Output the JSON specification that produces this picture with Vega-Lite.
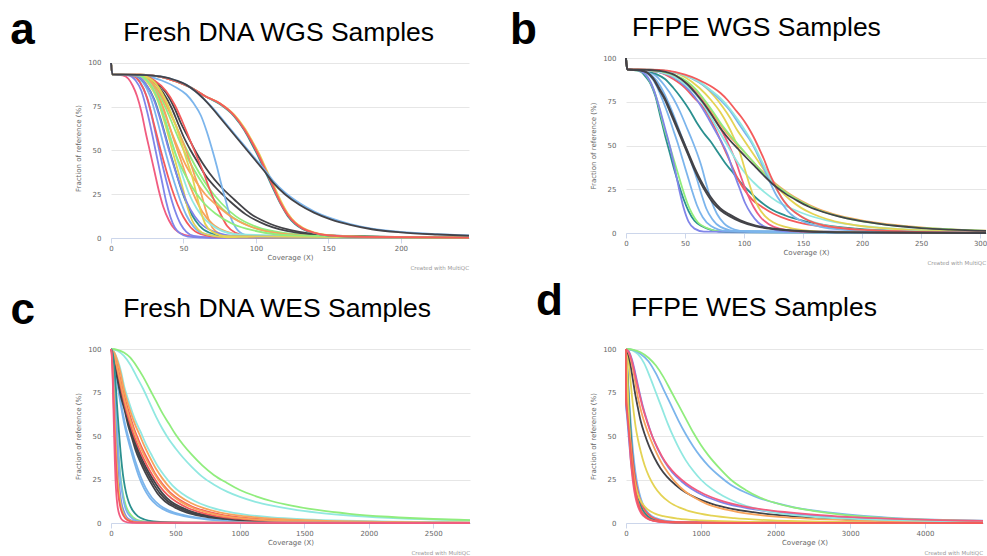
{
"$schema": "https://vega.github.io/schema/vega-lite/v6.json",
"background": "white",
"padding": {"left": 10, "top": 9, "right": 2, "bottom": 0},
"config": {
 "view": {"stroke": null},
 "axis": {"labelFont": "DejaVu Sans", "labelFontSize": 7, "labelColor": "#666666", "titleFont": "DejaVu Sans", "titleFontSize": 7, "titleFontWeight": "normal", "titleColor": "#666666"},
 "axisX": {"grid": false, "domainColor": "#ccd6eb", "tickColor": "#ccd6eb", "tickSize": 5, "labelPadding": 1, "titlePadding": 2, "labelFlush": false},
 "axisY": {"grid": true, "gridColor": "#e6e6e6", "domain": false, "ticks": false, "tickSize": 0, "labelPadding": 10, "titlePadding": 6.5},
 "line": {"strokeWidth": 1.8, "interpolate": "monotone"}
},
"datasets": {
"a": [
{"s":"a01","x":0,"y":100},{"s":"a01","x":1,"y":93.5},{"s":"a01","x":8,"y":93},{"s":"a01","x":12,"y":91},{"s":"a01","x":15,"y":87},{"s":"a01","x":18,"y":81},{"s":"a01","x":21,"y":72},{"s":"a01","x":24,"y":60},{"s":"a01","x":27,"y":49},{"s":"a01","x":30,"y":38},{"s":"a01","x":33,"y":27},{"s":"a01","x":36,"y":18},{"s":"a01","x":40,"y":10},{"s":"a01","x":44,"y":5},{"s":"a01","x":50,"y":2},{"s":"a01","x":60,"y":0.6},{"s":"a01","x":80,"y":0.1},{"s":"a01","x":247,"y":0},
{"s":"a02","x":0,"y":100},{"s":"a02","x":1,"y":93.5},{"s":"a02","x":12,"y":93},{"s":"a02","x":17,"y":90},{"s":"a02","x":21,"y":84},{"s":"a02","x":25,"y":72},{"s":"a02","x":29,"y":57},{"s":"a02","x":32,"y":45},{"s":"a02","x":35,"y":33},{"s":"a02","x":38,"y":21},{"s":"a02","x":41,"y":12},{"s":"a02","x":44,"y":6},{"s":"a02","x":48,"y":2.5},{"s":"a02","x":53,"y":0.8},{"s":"a02","x":70,"y":0.1},{"s":"a02","x":247,"y":0},
{"s":"a03","x":0,"y":100},{"s":"a03","x":1,"y":93.5},{"s":"a03","x":14,"y":93},{"s":"a03","x":20,"y":89},{"s":"a03","x":24,"y":82},{"s":"a03","x":28,"y":70},{"s":"a03","x":32,"y":55},{"s":"a03","x":36,"y":40},{"s":"a03","x":40,"y":27},{"s":"a03","x":44,"y":16},{"s":"a03","x":48,"y":8},{"s":"a03","x":52,"y":3.5},{"s":"a03","x":57,"y":1.2},{"s":"a03","x":70,"y":0.2},{"s":"a03","x":247,"y":0},
{"s":"a04","x":0,"y":100},{"s":"a04","x":1,"y":93.5},{"s":"a04","x":14,"y":93},{"s":"a04","x":20,"y":89},{"s":"a04","x":25,"y":80},{"s":"a04","x":30,"y":64},{"s":"a04","x":34,"y":51},{"s":"a04","x":38,"y":39},{"s":"a04","x":42,"y":28},{"s":"a04","x":46,"y":19},{"s":"a04","x":50,"y":12},{"s":"a04","x":55,"y":6},{"s":"a04","x":62,"y":2.2},{"s":"a04","x":75,"y":0.5},{"s":"a04","x":247,"y":0},
{"s":"a05","x":0,"y":100},{"s":"a05","x":1,"y":93.5},{"s":"a05","x":15,"y":93},{"s":"a05","x":22,"y":89},{"s":"a05","x":27,"y":81},{"s":"a05","x":32,"y":67},{"s":"a05","x":36,"y":54},{"s":"a05","x":40,"y":42},{"s":"a05","x":44,"y":31},{"s":"a05","x":48,"y":21},{"s":"a05","x":52,"y":13},{"s":"a05","x":57,"y":6.5},{"s":"a05","x":64,"y":2.5},{"s":"a05","x":80,"y":0.5},{"s":"a05","x":247,"y":0},
{"s":"a06","x":0,"y":100},{"s":"a06","x":1,"y":93.5},{"s":"a06","x":16,"y":93},{"s":"a06","x":24,"y":88},{"s":"a06","x":30,"y":79},{"s":"a06","x":35,"y":66},{"s":"a06","x":40,"y":51},{"s":"a06","x":44,"y":40},{"s":"a06","x":48,"y":29},{"s":"a06","x":52,"y":20},{"s":"a06","x":56,"y":13},{"s":"a06","x":61,"y":7},{"s":"a06","x":68,"y":3},{"s":"a06","x":85,"y":0.6},{"s":"a06","x":247,"y":0},
{"s":"a07","x":0,"y":100},{"s":"a07","x":1,"y":93.5},{"s":"a07","x":18,"y":93},{"s":"a07","x":26,"y":88},{"s":"a07","x":32,"y":79},{"s":"a07","x":37,"y":66},{"s":"a07","x":42,"y":51},{"s":"a07","x":46,"y":39},{"s":"a07","x":50,"y":27},{"s":"a07","x":53,"y":17},{"s":"a07","x":56,"y":10},{"s":"a07","x":60,"y":5},{"s":"a07","x":66,"y":2},{"s":"a07","x":80,"y":0.4},{"s":"a07","x":247,"y":0},
{"s":"a08","x":0,"y":100},{"s":"a08","x":1,"y":93.5},{"s":"a08","x":18,"y":93},{"s":"a08","x":27,"y":89},{"s":"a08","x":33,"y":81},{"s":"a08","x":38,"y":70},{"s":"a08","x":43,"y":57},{"s":"a08","x":48,"y":45},{"s":"a08","x":53,"y":33},{"s":"a08","x":58,"y":23},{"s":"a08","x":63,"y":15},{"s":"a08","x":70,"y":8},{"s":"a08","x":80,"y":3.5},{"s":"a08","x":100,"y":0.8},{"s":"a08","x":247,"y":0},
{"s":"a09","x":0,"y":100},{"s":"a09","x":1,"y":93.5},{"s":"a09","x":20,"y":93},{"s":"a09","x":28,"y":89},{"s":"a09","x":34,"y":81},{"s":"a09","x":40,"y":70},{"s":"a09","x":46,"y":58},{"s":"a09","x":52,"y":47},{"s":"a09","x":58,"y":38},{"s":"a09","x":64,"y":30},{"s":"a09","x":72,"y":21},{"s":"a09","x":82,"y":13},{"s":"a09","x":95,"y":7},{"s":"a09","x":115,"y":3},{"s":"a09","x":150,"y":1},{"s":"a09","x":247,"y":0.2},
{"s":"a10","x":0,"y":100},{"s":"a10","x":1,"y":93.5},{"s":"a10","x":20,"y":93},{"s":"a10","x":30,"y":89},{"s":"a10","x":36,"y":81},{"s":"a10","x":42,"y":70},{"s":"a10","x":48,"y":58},{"s":"a10","x":55,"y":46},{"s":"a10","x":61,"y":37},{"s":"a10","x":68,"y":28},{"s":"a10","x":76,"y":20},{"s":"a10","x":86,"y":12.5},{"s":"a10","x":100,"y":6.5},{"s":"a10","x":120,"y":2.8},{"s":"a10","x":150,"y":1.2},{"s":"a10","x":247,"y":0.2},
{"s":"a11","x":0,"y":100},{"s":"a11","x":1,"y":93.5},{"s":"a11","x":20,"y":93},{"s":"a11","x":30,"y":89.5},{"s":"a11","x":38,"y":83},{"s":"a11","x":44,"y":74},{"s":"a11","x":48,"y":66},{"s":"a11","x":53,"y":58},{"s":"a11","x":58,"y":50},{"s":"a11","x":63,"y":43},{"s":"a11","x":68,"y":37},{"s":"a11","x":75,"y":30},{"s":"a11","x":85,"y":22},{"s":"a11","x":96,"y":14},{"s":"a11","x":110,"y":8},{"s":"a11","x":130,"y":3.5},{"s":"a11","x":160,"y":1.2},{"s":"a11","x":247,"y":0.2},
{"s":"a12","x":0,"y":100},{"s":"a12","x":1,"y":93.5},{"s":"a12","x":20,"y":93},{"s":"a12","x":30,"y":89},{"s":"a12","x":36,"y":83},{"s":"a12","x":42,"y":74},{"s":"a12","x":46,"y":66},{"s":"a12","x":50,"y":58},{"s":"a12","x":55,"y":50},{"s":"a12","x":60,"y":43},{"s":"a12","x":65,"y":36},{"s":"a12","x":72,"y":29},{"s":"a12","x":82,"y":21},{"s":"a12","x":93,"y":13.5},{"s":"a12","x":107,"y":7.5},{"s":"a12","x":127,"y":3.2},{"s":"a12","x":160,"y":1},{"s":"a12","x":247,"y":0.2},
{"s":"a13","x":0,"y":100},{"s":"a13","x":1,"y":93.5},{"s":"a13","x":20,"y":93},{"s":"a13","x":35,"y":90},{"s":"a13","x":45,"y":86},{"s":"a13","x":52,"y":82},{"s":"a13","x":57,"y":77},{"s":"a13","x":62,"y":70},{"s":"a13","x":66,"y":61},{"s":"a13","x":70,"y":50},{"s":"a13","x":73,"y":41},{"s":"a13","x":76,"y":31},{"s":"a13","x":79,"y":22},{"s":"a13","x":82,"y":13},{"s":"a13","x":86,"y":6},{"s":"a13","x":92,"y":2},{"s":"a13","x":105,"y":0.5},{"s":"a13","x":247,"y":0},
{"s":"a14","x":0,"y":100},{"s":"a14","x":1,"y":93.5},{"s":"a14","x":20,"y":93},{"s":"a14","x":30,"y":90},{"s":"a14","x":38,"y":84},{"s":"a14","x":44,"y":76},{"s":"a14","x":49,"y":67},{"s":"a14","x":54,"y":57},{"s":"a14","x":59,"y":47},{"s":"a14","x":64,"y":37},{"s":"a14","x":68,"y":28},{"s":"a14","x":72,"y":20},{"s":"a14","x":76,"y":13},{"s":"a14","x":80,"y":7},{"s":"a14","x":86,"y":3},{"s":"a14","x":95,"y":1},{"s":"a14","x":247,"y":0},
{"s":"a15","x":0,"y":100},{"s":"a15","x":1,"y":93.5},{"s":"a15","x":18,"y":93},{"s":"a15","x":28,"y":89},{"s":"a15","x":35,"y":81},{"s":"a15","x":41,"y":71},{"s":"a15","x":46,"y":62},{"s":"a15","x":50,"y":54},{"s":"a15","x":54,"y":45},{"s":"a15","x":58,"y":35},{"s":"a15","x":62,"y":26},{"s":"a15","x":65,"y":17},{"s":"a15","x":68,"y":9},{"s":"a15","x":72,"y":4},{"s":"a15","x":80,"y":1.2},{"s":"a15","x":247,"y":0},
{"s":"a16","x":0,"y":100},{"s":"a16","x":1,"y":93.5},{"s":"a16","x":18,"y":93},{"s":"a16","x":26,"y":89},{"s":"a16","x":32,"y":81},{"s":"a16","x":37,"y":71},{"s":"a16","x":42,"y":60},{"s":"a16","x":47,"y":50},{"s":"a16","x":52,"y":41},{"s":"a16","x":58,"y":33},{"s":"a16","x":65,"y":25},{"s":"a16","x":74,"y":18},{"s":"a16","x":85,"y":11},{"s":"a16","x":98,"y":6},{"s":"a16","x":115,"y":2.8},{"s":"a16","x":150,"y":0.8},{"s":"a16","x":247,"y":0.1},
{"s":"a17","x":0,"y":100},{"s":"a17","x":1,"y":93.5},{"s":"a17","x":18,"y":93},{"s":"a17","x":27,"y":88},{"s":"a17","x":33,"y":78},{"s":"a17","x":38,"y":66},{"s":"a17","x":42,"y":55},{"s":"a17","x":46,"y":44},{"s":"a17","x":50,"y":34},{"s":"a17","x":54,"y":25},{"s":"a17","x":59,"y":17},{"s":"a17","x":65,"y":10.5},{"s":"a17","x":73,"y":5.5},{"s":"a17","x":88,"y":2},{"s":"a17","x":247,"y":0},
{"s":"a18","x":0,"y":100},{"s":"a18","x":1,"y":93.5},{"s":"a18","x":16,"y":93},{"s":"a18","x":24,"y":88},{"s":"a18","x":30,"y":78},{"s":"a18","x":35,"y":65},{"s":"a18","x":39,"y":53},{"s":"a18","x":43,"y":42},{"s":"a18","x":47,"y":32},{"s":"a18","x":51,"y":23},{"s":"a18","x":55,"y":16},{"s":"a18","x":61,"y":9},{"s":"a18","x":70,"y":4},{"s":"a18","x":88,"y":1},{"s":"a18","x":247,"y":0},
{"s":"a19","x":0,"y":100},{"s":"a19","x":1,"y":93.5},{"s":"a19","x":20,"y":93},{"s":"a19","x":30,"y":89},{"s":"a19","x":37,"y":80},{"s":"a19","x":43,"y":68},{"s":"a19","x":48,"y":56},{"s":"a19","x":52,"y":45},{"s":"a19","x":56,"y":35},{"s":"a19","x":59,"y":25},{"s":"a19","x":62,"y":15},{"s":"a19","x":65,"y":8},{"s":"a19","x":70,"y":3.5},{"s":"a19","x":80,"y":1},{"s":"a19","x":247,"y":0},
{"s":"a20","x":0,"y":100},{"s":"a20","x":1,"y":93.5},{"s":"a20","x":18,"y":93},{"s":"a20","x":26,"y":89},{"s":"a20","x":32,"y":80},{"s":"a20","x":37,"y":68},{"s":"a20","x":41,"y":57},{"s":"a20","x":45,"y":47},{"s":"a20","x":50,"y":38},{"s":"a20","x":56,"y":29},{"s":"a20","x":63,"y":21},{"s":"a20","x":72,"y":14},{"s":"a20","x":84,"y":8},{"s":"a20","x":100,"y":4},{"s":"a20","x":125,"y":1.5},{"s":"a20","x":247,"y":0.2},
{"s":"a21","x":0,"y":100},{"s":"a21","x":1,"y":93.5},{"s":"a21","x":20,"y":93.3},{"s":"a21","x":35,"y":92},{"s":"a21","x":45,"y":89.5},{"s":"a21","x":55,"y":86},{"s":"a21","x":65,"y":81},{"s":"a21","x":75,"y":77},{"s":"a21","x":85,"y":70.5},{"s":"a21","x":92,"y":63},{"s":"a21","x":97,"y":56},{"s":"a21","x":102,"y":48.5},{"s":"a21","x":107,"y":39.5},{"s":"a21","x":112,"y":30.5},{"s":"a21","x":117,"y":21.5},{"s":"a21","x":122,"y":14},{"s":"a21","x":127,"y":9},{"s":"a21","x":132,"y":6},{"s":"a21","x":140,"y":3.2},{"s":"a21","x":150,"y":1.6},{"s":"a21","x":175,"y":0.6},{"s":"a21","x":247,"y":0.2},
{"s":"a22","x":0,"y":100},{"s":"a22","x":1,"y":93.5},{"s":"a22","x":20,"y":93.3},{"s":"a22","x":35,"y":92},{"s":"a22","x":45,"y":89.5},{"s":"a22","x":55,"y":86},{"s":"a22","x":65,"y":81},{"s":"a22","x":75,"y":76.5},{"s":"a22","x":85,"y":69.5},{"s":"a22","x":92,"y":61.5},{"s":"a22","x":97,"y":54},{"s":"a22","x":102,"y":46},{"s":"a22","x":107,"y":37},{"s":"a22","x":112,"y":28},{"s":"a22","x":117,"y":19.5},{"s":"a22","x":122,"y":12.5},{"s":"a22","x":127,"y":8},{"s":"a22","x":132,"y":5.2},{"s":"a22","x":140,"y":2.8},{"s":"a22","x":150,"y":1.4},{"s":"a22","x":175,"y":0.5},{"s":"a22","x":247,"y":0.2},
{"s":"a23","x":0,"y":100},{"s":"a23","x":1,"y":93.5},{"s":"a23","x":20,"y":93.3},{"s":"a23","x":35,"y":92},{"s":"a23","x":45,"y":89.5},{"s":"a23","x":55,"y":86},{"s":"a23","x":65,"y":81},{"s":"a23","x":75,"y":77},{"s":"a23","x":85,"y":70},{"s":"a23","x":92,"y":62.5},{"s":"a23","x":97,"y":55.5},{"s":"a23","x":102,"y":47.5},{"s":"a23","x":107,"y":38.5},{"s":"a23","x":112,"y":29.5},{"s":"a23","x":117,"y":20.5},{"s":"a23","x":122,"y":13.5},{"s":"a23","x":127,"y":8.7},{"s":"a23","x":132,"y":5.7},{"s":"a23","x":140,"y":3},{"s":"a23","x":150,"y":1.5},{"s":"a23","x":175,"y":0.6},{"s":"a23","x":247,"y":0.2},
{"s":"a24","x":0,"y":100},{"s":"a24","x":1,"y":93.5},{"s":"a24","x":20,"y":93.3},{"s":"a24","x":35,"y":92},{"s":"a24","x":45,"y":89.5},{"s":"a24","x":55,"y":86},{"s":"a24","x":65,"y":81},{"s":"a24","x":75,"y":77},{"s":"a24","x":85,"y":70},{"s":"a24","x":92,"y":62},{"s":"a24","x":97,"y":55},{"s":"a24","x":102,"y":47},{"s":"a24","x":107,"y":38},{"s":"a24","x":112,"y":29},{"s":"a24","x":117,"y":20},{"s":"a24","x":122,"y":13},{"s":"a24","x":127,"y":8.5},{"s":"a24","x":132,"y":5.5},{"s":"a24","x":140,"y":3},{"s":"a24","x":150,"y":1.5},{"s":"a24","x":175,"y":0.6},{"s":"a24","x":247,"y":0.2},
{"s":"a25","x":0,"y":100},{"s":"a25","x":1,"y":93.5},{"s":"a25","x":20,"y":93.2},{"s":"a25","x":35,"y":92.2},{"s":"a25","x":45,"y":90},{"s":"a25","x":52,"y":87.5},{"s":"a25","x":58,"y":84},{"s":"a25","x":64,"y":79.5},{"s":"a25","x":70,"y":74.5},{"s":"a25","x":76,"y":68.7},{"s":"a25","x":82,"y":62.7},{"s":"a25","x":88,"y":56.7},{"s":"a25","x":94,"y":50.8},{"s":"a25","x":100,"y":44.8},{"s":"a25","x":106,"y":39},{"s":"a25","x":112,"y":32.5},{"s":"a25","x":120,"y":26},{"s":"a25","x":130,"y":20},{"s":"a25","x":140,"y":15.3},{"s":"a25","x":152,"y":11.2},{"s":"a25","x":165,"y":8},{"s":"a25","x":180,"y":5.4},{"s":"a25","x":200,"y":3.5},{"s":"a25","x":225,"y":2.2},{"s":"a25","x":247,"y":1.5},
{"s":"a26","x":0,"y":100},{"s":"a26","x":1,"y":93.5},{"s":"a26","x":20,"y":93.2},{"s":"a26","x":35,"y":92.2},{"s":"a26","x":45,"y":90},{"s":"a26","x":52,"y":87.5},{"s":"a26","x":58,"y":84},{"s":"a26","x":64,"y":79.5},{"s":"a26","x":70,"y":74},{"s":"a26","x":76,"y":68},{"s":"a26","x":82,"y":62},{"s":"a26","x":88,"y":56},{"s":"a26","x":94,"y":50},{"s":"a26","x":100,"y":44},{"s":"a26","x":106,"y":38},{"s":"a26","x":112,"y":31.5},{"s":"a26","x":120,"y":25},{"s":"a26","x":130,"y":19},{"s":"a26","x":140,"y":14.5},{"s":"a26","x":152,"y":10.5},{"s":"a26","x":165,"y":7.5},{"s":"a26","x":180,"y":5},{"s":"a26","x":200,"y":3.2},{"s":"a26","x":225,"y":2},{"s":"a26","x":247,"y":1.3}
],
"b": [
{"s":"b01","x":0,"y":100},{"s":"b01","x":1,"y":93.5},{"s":"b01","x":8,"y":93},{"s":"b01","x":13,"y":92},{"s":"b01","x":17,"y":89},{"s":"b01","x":21,"y":85},{"s":"b01","x":25,"y":78},{"s":"b01","x":29,"y":67},{"s":"b01","x":33,"y":56},{"s":"b01","x":37,"y":46},{"s":"b01","x":41,"y":36},{"s":"b01","x":45,"y":27},{"s":"b01","x":49,"y":19},{"s":"b01","x":53,"y":12.5},{"s":"b01","x":58,"y":7},{"s":"b01","x":64,"y":4},{"s":"b01","x":72,"y":1.8},{"s":"b01","x":85,"y":0.5},{"s":"b01","x":305,"y":0},
{"s":"b02","x":0,"y":100},{"s":"b02","x":1,"y":93.5},{"s":"b02","x":9,"y":93},{"s":"b02","x":15,"y":91.5},{"s":"b02","x":20,"y":87},{"s":"b02","x":24,"y":81},{"s":"b02","x":28,"y":72},{"s":"b02","x":32,"y":61},{"s":"b02","x":36,"y":52},{"s":"b02","x":40,"y":43},{"s":"b02","x":44,"y":34},{"s":"b02","x":48,"y":25},{"s":"b02","x":52,"y":17},{"s":"b02","x":56,"y":11},{"s":"b02","x":61,"y":6},{"s":"b02","x":68,"y":3},{"s":"b02","x":80,"y":1},{"s":"b02","x":305,"y":0},
{"s":"b03","x":0,"y":100},{"s":"b03","x":1,"y":93.5},{"s":"b03","x":10,"y":93},{"s":"b03","x":16,"y":91},{"s":"b03","x":21,"y":86},{"s":"b03","x":25,"y":79},{"s":"b03","x":29,"y":70},{"s":"b03","x":33,"y":60},{"s":"b03","x":37,"y":50},{"s":"b03","x":41,"y":38},{"s":"b03","x":45,"y":25},{"s":"b03","x":49,"y":14},{"s":"b03","x":53,"y":6.5},{"s":"b03","x":58,"y":2.5},{"s":"b03","x":66,"y":0.8},{"s":"b03","x":305,"y":0},
{"s":"b04","x":0,"y":100},{"s":"b04","x":1,"y":93.5},{"s":"b04","x":12,"y":93},{"s":"b04","x":20,"y":90},{"s":"b04","x":26,"y":84},{"s":"b04","x":31,"y":76},{"s":"b04","x":36,"y":67},{"s":"b04","x":40,"y":59},{"s":"b04","x":44,"y":51},{"s":"b04","x":48,"y":42},{"s":"b04","x":52,"y":33},{"s":"b04","x":56,"y":24},{"s":"b04","x":60,"y":16},{"s":"b04","x":65,"y":9},{"s":"b04","x":72,"y":4},{"s":"b04","x":85,"y":1.2},{"s":"b04","x":305,"y":0},
{"s":"b05","x":0,"y":100},{"s":"b05","x":1,"y":93.5},{"s":"b05","x":14,"y":93},{"s":"b05","x":22,"y":90},{"s":"b05","x":29,"y":84},{"s":"b05","x":35,"y":76},{"s":"b05","x":40,"y":68},{"s":"b05","x":45,"y":59},{"s":"b05","x":50,"y":50},{"s":"b05","x":55,"y":41},{"s":"b05","x":60,"y":31},{"s":"b05","x":64,"y":22},{"s":"b05","x":68,"y":14},{"s":"b05","x":73,"y":8},{"s":"b05","x":80,"y":3.5},{"s":"b05","x":95,"y":1},{"s":"b05","x":305,"y":0},
{"s":"b08","x":0,"y":100},{"s":"b08","x":1,"y":93.5},{"s":"b08","x":15,"y":93},{"s":"b08","x":25,"y":90},{"s":"b08","x":33,"y":84},{"s":"b08","x":40,"y":77},{"s":"b08","x":46,"y":69},{"s":"b08","x":51,"y":61},{"s":"b08","x":56,"y":53},{"s":"b08","x":60,"y":46},{"s":"b08","x":64,"y":38},{"s":"b08","x":68,"y":28},{"s":"b08","x":72,"y":19},{"s":"b08","x":77,"y":11},{"s":"b08","x":83,"y":5.5},{"s":"b08","x":92,"y":2},{"s":"b08","x":105,"y":0.6},{"s":"b08","x":305,"y":0},
{"s":"b10","x":0,"y":100},{"s":"b10","x":1,"y":93.5},{"s":"b10","x":15,"y":93},{"s":"b10","x":25,"y":91},{"s":"b10","x":33,"y":88},{"s":"b10","x":40,"y":83},{"s":"b10","x":47,"y":77},{"s":"b10","x":54,"y":70},{"s":"b10","x":60,"y":63},{"s":"b10","x":66,"y":57},{"s":"b10","x":72,"y":52},{"s":"b10","x":78,"y":46},{"s":"b10","x":84,"y":40},{"s":"b10","x":90,"y":35},{"s":"b10","x":97,"y":29},{"s":"b10","x":104,"y":24},{"s":"b10","x":112,"y":19},{"s":"b10","x":122,"y":14},{"s":"b10","x":135,"y":10},{"s":"b10","x":150,"y":7},{"s":"b10","x":170,"y":4.3},{"s":"b10","x":195,"y":2.5},{"s":"b10","x":230,"y":1.2},{"s":"b10","x":305,"y":0.3},
{"s":"b11","x":0,"y":100},{"s":"b11","x":1,"y":93.5},{"s":"b11","x":15,"y":93},{"s":"b11","x":28,"y":92},{"s":"b11","x":40,"y":88},{"s":"b11","x":50,"y":83},{"s":"b11","x":58,"y":77},{"s":"b11","x":64,"y":73},{"s":"b11","x":70,"y":67},{"s":"b11","x":76,"y":59},{"s":"b11","x":82,"y":50},{"s":"b11","x":88,"y":41},{"s":"b11","x":94,"y":32},{"s":"b11","x":100,"y":25},{"s":"b11","x":107,"y":19},{"s":"b11","x":115,"y":15},{"s":"b11","x":125,"y":11},{"s":"b11","x":138,"y":7.5},{"s":"b11","x":155,"y":4.8},{"s":"b11","x":180,"y":2.7},{"s":"b11","x":215,"y":1.3},{"s":"b11","x":305,"y":0.3},
{"s":"b12","x":0,"y":100},{"s":"b12","x":1,"y":93.5},{"s":"b12","x":15,"y":93},{"s":"b12","x":28,"y":92},{"s":"b12","x":40,"y":89},{"s":"b12","x":50,"y":84},{"s":"b12","x":58,"y":78},{"s":"b12","x":65,"y":71},{"s":"b12","x":71,"y":64},{"s":"b12","x":76,"y":58},{"s":"b12","x":81,"y":52},{"s":"b12","x":86,"y":45},{"s":"b12","x":91,"y":35},{"s":"b12","x":96,"y":26},{"s":"b12","x":101,"y":17},{"s":"b12","x":106,"y":11},{"s":"b12","x":112,"y":6},{"s":"b12","x":120,"y":3},{"s":"b12","x":135,"y":1},{"s":"b12","x":305,"y":0},
{"s":"b13","x":0,"y":100},{"s":"b13","x":1,"y":93.5},{"s":"b13","x":15,"y":93},{"s":"b13","x":28,"y":92},{"s":"b13","x":40,"y":89.5},{"s":"b13","x":52,"y":85},{"s":"b13","x":62,"y":78},{"s":"b13","x":70,"y":71},{"s":"b13","x":77,"y":63},{"s":"b13","x":83,"y":56},{"s":"b13","x":88,"y":49},{"s":"b13","x":93,"y":41},{"s":"b13","x":98,"y":31},{"s":"b13","x":103,"y":22},{"s":"b13","x":108,"y":15},{"s":"b13","x":114,"y":9},{"s":"b13","x":121,"y":5},{"s":"b13","x":130,"y":2.5},{"s":"b13","x":150,"y":0.8},{"s":"b13","x":305,"y":0},
{"s":"b14","x":0,"y":100},{"s":"b14","x":1,"y":93.5},{"s":"b14","x":15,"y":93},{"s":"b14","x":28,"y":92},{"s":"b14","x":40,"y":89.5},{"s":"b14","x":50,"y":85},{"s":"b14","x":58,"y":80},{"s":"b14","x":65,"y":74},{"s":"b14","x":72,"y":66},{"s":"b14","x":79,"y":58},{"s":"b14","x":86,"y":50},{"s":"b14","x":93,"y":42},{"s":"b14","x":100,"y":35},{"s":"b14","x":108,"y":29},{"s":"b14","x":117,"y":23.5},{"s":"b14","x":128,"y":18},{"s":"b14","x":140,"y":14},{"s":"b14","x":155,"y":10},{"s":"b14","x":175,"y":6.5},{"s":"b14","x":200,"y":4},{"s":"b14","x":240,"y":2},{"s":"b14","x":305,"y":0.8},
{"s":"b15","x":0,"y":100},{"s":"b15","x":1,"y":93.5},{"s":"b15","x":18,"y":93.2},{"s":"b15","x":35,"y":92.5},{"s":"b15","x":50,"y":89},{"s":"b15","x":62,"y":83},{"s":"b15","x":72,"y":76},{"s":"b15","x":80,"y":69},{"s":"b15","x":86,"y":62},{"s":"b15","x":91,"y":55},{"s":"b15","x":96,"y":47},{"s":"b15","x":100,"y":38},{"s":"b15","x":104,"y":29},{"s":"b15","x":108,"y":21},{"s":"b15","x":112,"y":15},{"s":"b15","x":118,"y":9.5},{"s":"b15","x":125,"y":6},{"s":"b15","x":135,"y":3.5},{"s":"b15","x":150,"y":1.7},{"s":"b15","x":175,"y":0.7},{"s":"b15","x":305,"y":0},
{"s":"b17","x":0,"y":100},{"s":"b17","x":1,"y":93.5},{"s":"b17","x":18,"y":93.2},{"s":"b17","x":30,"y":92.5},{"s":"b17","x":42,"y":90},{"s":"b17","x":52,"y":86},{"s":"b17","x":60,"y":81},{"s":"b17","x":67,"y":75},{"s":"b17","x":74,"y":68},{"s":"b17","x":81,"y":61},{"s":"b17","x":88,"y":55},{"s":"b17","x":95,"y":50},{"s":"b17","x":102,"y":45},{"s":"b17","x":110,"y":39},{"s":"b17","x":118,"y":33.5},{"s":"b17","x":127,"y":28},{"s":"b17","x":137,"y":23},{"s":"b17","x":148,"y":18.5},{"s":"b17","x":160,"y":14.5},{"s":"b17","x":175,"y":11},{"s":"b17","x":190,"y":8.5},{"s":"b17","x":210,"y":6},{"s":"b17","x":235,"y":4},{"s":"b17","x":260,"y":2.7},{"s":"b17","x":305,"y":1.3},
{"s":"b18","x":0,"y":100},{"s":"b18","x":1,"y":93.5},{"s":"b18","x":18,"y":93.2},{"s":"b18","x":30,"y":92.5},{"s":"b18","x":42,"y":90},{"s":"b18","x":52,"y":86.5},{"s":"b18","x":60,"y":81.5},{"s":"b18","x":67,"y":75.5},{"s":"b18","x":74,"y":69},{"s":"b18","x":81,"y":62},{"s":"b18","x":88,"y":56},{"s":"b18","x":95,"y":50.5},{"s":"b18","x":102,"y":45},{"s":"b18","x":110,"y":39},{"s":"b18","x":118,"y":33},{"s":"b18","x":127,"y":27.5},{"s":"b18","x":137,"y":22.5},{"s":"b18","x":148,"y":18},{"s":"b18","x":160,"y":14},{"s":"b18","x":175,"y":10.5},{"s":"b18","x":190,"y":8},{"s":"b18","x":210,"y":5.7},{"s":"b18","x":235,"y":3.8},{"s":"b18","x":260,"y":2.6},{"s":"b18","x":305,"y":1.2},
{"s":"b22","x":0,"y":100},{"s":"b22","x":1,"y":93.5},{"s":"b22","x":20,"y":93.3},{"s":"b22","x":35,"y":92.5},{"s":"b22","x":50,"y":90},{"s":"b22","x":60,"y":87},{"s":"b22","x":68,"y":83},{"s":"b22","x":75,"y":78},{"s":"b22","x":82,"y":72},{"s":"b22","x":88,"y":66},{"s":"b22","x":94,"y":59},{"s":"b22","x":100,"y":53},{"s":"b22","x":106,"y":47},{"s":"b22","x":112,"y":41},{"s":"b22","x":118,"y":35},{"s":"b22","x":124,"y":29.5},{"s":"b22","x":131,"y":24},{"s":"b22","x":139,"y":19},{"s":"b22","x":148,"y":14.5},{"s":"b22","x":158,"y":11},{"s":"b22","x":170,"y":8},{"s":"b22","x":185,"y":5.5},{"s":"b22","x":205,"y":3.5},{"s":"b22","x":230,"y":2.2},{"s":"b22","x":260,"y":1.4},{"s":"b22","x":305,"y":0.8},
{"s":"b19","x":0,"y":100},{"s":"b19","x":1,"y":93.5},{"s":"b19","x":20,"y":93.3},{"s":"b19","x":35,"y":92.5},{"s":"b19","x":50,"y":90},{"s":"b19","x":62,"y":86},{"s":"b19","x":72,"y":81},{"s":"b19","x":80,"y":76},{"s":"b19","x":88,"y":70},{"s":"b19","x":95,"y":63},{"s":"b19","x":101,"y":57},{"s":"b19","x":106,"y":52},{"s":"b19","x":110,"y":47},{"s":"b19","x":114,"y":41},{"s":"b19","x":118,"y":35},{"s":"b19","x":122,"y":29},{"s":"b19","x":127,"y":22},{"s":"b19","x":132,"y":17},{"s":"b19","x":137,"y":12.5},{"s":"b19","x":143,"y":9},{"s":"b19","x":152,"y":6},{"s":"b19","x":165,"y":3.5},{"s":"b19","x":185,"y":1.8},{"s":"b19","x":215,"y":0.8},{"s":"b19","x":305,"y":0.2},
{"s":"b20","x":0,"y":100},{"s":"b20","x":1,"y":93.5},{"s":"b20","x":20,"y":93.3},{"s":"b20","x":35,"y":92.5},{"s":"b20","x":50,"y":90},{"s":"b20","x":62,"y":86.5},{"s":"b20","x":72,"y":81.5},{"s":"b20","x":80,"y":77},{"s":"b20","x":88,"y":71},{"s":"b20","x":95,"y":64.5},{"s":"b20","x":101,"y":58.5},{"s":"b20","x":106,"y":53},{"s":"b20","x":110,"y":48},{"s":"b20","x":114,"y":42.5},{"s":"b20","x":118,"y":37},{"s":"b20","x":122,"y":31.5},{"s":"b20","x":127,"y":25.5},{"s":"b20","x":132,"y":20},{"s":"b20","x":138,"y":15},{"s":"b20","x":145,"y":11},{"s":"b20","x":154,"y":7.5},{"s":"b20","x":166,"y":4.8},{"s":"b20","x":185,"y":2.7},{"s":"b20","x":215,"y":1.3},{"s":"b20","x":305,"y":0.4},
{"s":"b21","x":0,"y":100},{"s":"b21","x":1,"y":93.5},{"s":"b21","x":20,"y":93.4},{"s":"b21","x":35,"y":92.8},{"s":"b21","x":50,"y":90.5},{"s":"b21","x":60,"y":88},{"s":"b21","x":66,"y":86},{"s":"b21","x":74,"y":83},{"s":"b21","x":80,"y":80},{"s":"b21","x":86,"y":76},{"s":"b21","x":92,"y":71},{"s":"b21","x":98,"y":66},{"s":"b21","x":103,"y":61},{"s":"b21","x":108,"y":55},{"s":"b21","x":113,"y":48},{"s":"b21","x":117,"y":42},{"s":"b21","x":121,"y":35},{"s":"b21","x":125,"y":29},{"s":"b21","x":129,"y":23.5},{"s":"b21","x":134,"y":18},{"s":"b21","x":140,"y":13.5},{"s":"b21","x":147,"y":10},{"s":"b21","x":155,"y":7},{"s":"b21","x":165,"y":4.8},{"s":"b21","x":180,"y":3},{"s":"b21","x":207,"y":1.6},{"s":"b21","x":240,"y":0.8},{"s":"b21","x":305,"y":0.3},
{"s":"b16","x":0,"y":100},{"s":"b16","x":1,"y":93.5},{"s":"b16","x":18,"y":93.2},{"s":"b16","x":30,"y":92.5},{"s":"b16","x":42,"y":90},{"s":"b16","x":52,"y":85},{"s":"b16","x":60,"y":79},{"s":"b16","x":67,"y":73},{"s":"b16","x":74,"y":66},{"s":"b16","x":81,"y":59},{"s":"b16","x":88,"y":53},{"s":"b16","x":95,"y":48},{"s":"b16","x":102,"y":43},{"s":"b16","x":110,"y":37.5},{"s":"b16","x":118,"y":32},{"s":"b16","x":126,"y":27},{"s":"b16","x":135,"y":22.5},{"s":"b16","x":145,"y":18.5},{"s":"b16","x":155,"y":15},{"s":"b16","x":167,"y":12},{"s":"b16","x":180,"y":9.5},{"s":"b16","x":195,"y":7.3},{"s":"b16","x":212,"y":5.5},{"s":"b16","x":230,"y":4},{"s":"b16","x":250,"y":2.8},{"s":"b16","x":275,"y":1.9},{"s":"b16","x":305,"y":1.2},
{"s":"b06","x":0,"y":100},{"s":"b06","x":1,"y":93.5},{"s":"b06","x":12,"y":93},{"s":"b06","x":18,"y":91.5},{"s":"b06","x":23,"y":88},{"s":"b06","x":28,"y":82},{"s":"b06","x":33,"y":76},{"s":"b06","x":38,"y":68},{"s":"b06","x":43,"y":60},{"s":"b06","x":48,"y":52},{"s":"b06","x":53,"y":44},{"s":"b06","x":58,"y":36},{"s":"b06","x":63,"y":29},{"s":"b06","x":68,"y":23},{"s":"b06","x":74,"y":17},{"s":"b06","x":80,"y":13},{"s":"b06","x":88,"y":9.5},{"s":"b06","x":97,"y":6.5},{"s":"b06","x":110,"y":3.8},{"s":"b06","x":125,"y":2.2},{"s":"b06","x":150,"y":1},{"s":"b06","x":190,"y":0.3},{"s":"b06","x":305,"y":0},
{"s":"b07","x":0,"y":100},{"s":"b07","x":1,"y":93.5},{"s":"b07","x":12,"y":93},{"s":"b07","x":18,"y":91.7},{"s":"b07","x":23,"y":88.5},{"s":"b07","x":28,"y":83},{"s":"b07","x":33,"y":77},{"s":"b07","x":38,"y":69.5},{"s":"b07","x":43,"y":61.5},{"s":"b07","x":48,"y":53.5},{"s":"b07","x":53,"y":45.5},{"s":"b07","x":58,"y":37.5},{"s":"b07","x":63,"y":30.5},{"s":"b07","x":68,"y":24.5},{"s":"b07","x":74,"y":18.5},{"s":"b07","x":80,"y":14},{"s":"b07","x":88,"y":10.5},{"s":"b07","x":97,"y":7.2},{"s":"b07","x":110,"y":4.2},{"s":"b07","x":125,"y":2.5},{"s":"b07","x":150,"y":1.1},{"s":"b07","x":190,"y":0.3},{"s":"b07","x":305,"y":0}
],
"c": [
{"s":"c06","x":0,"y":100},{"s":"c06","x":15,"y":97},{"s":"c06","x":30,"y":91},{"s":"c06","x":45,"y":83},{"s":"c06","x":60,"y":75},{"s":"c06","x":80,"y":66},{"s":"c06","x":100,"y":58},{"s":"c06","x":125,"y":50},{"s":"c06","x":150,"y":43},{"s":"c06","x":180,"y":35},{"s":"c06","x":215,"y":27},{"s":"c06","x":255,"y":20},{"s":"c06","x":300,"y":14.5},{"s":"c06","x":360,"y":10},{"s":"c06","x":430,"y":7},{"s":"c06","x":520,"y":4.8},{"s":"c06","x":620,"y":3.2},{"s":"c06","x":750,"y":2},{"s":"c06","x":900,"y":1.3},{"s":"c06","x":1100,"y":0.7},{"s":"c06","x":1400,"y":0.3},{"s":"c06","x":1800,"y":0.1},{"s":"c06","x":2785,"y":0},
{"s":"c07","x":0,"y":100},{"s":"c07","x":16,"y":97},{"s":"c07","x":32,"y":91},{"s":"c07","x":48,"y":83},{"s":"c07","x":64,"y":75},{"s":"c07","x":85,"y":66},{"s":"c07","x":106,"y":58},{"s":"c07","x":132,"y":50},{"s":"c07","x":159,"y":43},{"s":"c07","x":191,"y":35},{"s":"c07","x":228,"y":27},{"s":"c07","x":270,"y":20},{"s":"c07","x":318,"y":14.5},{"s":"c07","x":382,"y":10},{"s":"c07","x":456,"y":7},{"s":"c07","x":551,"y":4.8},{"s":"c07","x":657,"y":3.2},{"s":"c07","x":795,"y":2},{"s":"c07","x":954,"y":1.3},{"s":"c07","x":1166,"y":0.7},{"s":"c07","x":1484,"y":0.3},{"s":"c07","x":1900,"y":0.1},{"s":"c07","x":2785,"y":0},
{"s":"c08","x":0,"y":100},{"s":"c08","x":20,"y":96},{"s":"c08","x":40,"y":88},{"s":"c08","x":60,"y":80},{"s":"c08","x":80,"y":73},{"s":"c08","x":110,"y":65},{"s":"c08","x":140,"y":56},{"s":"c08","x":170,"y":49},{"s":"c08","x":200,"y":42},{"s":"c08","x":240,"y":35},{"s":"c08","x":280,"y":29},{"s":"c08","x":330,"y":22.5},{"s":"c08","x":380,"y":17},{"s":"c08","x":440,"y":12.5},{"s":"c08","x":520,"y":9},{"s":"c08","x":620,"y":6},{"s":"c08","x":740,"y":4},{"s":"c08","x":880,"y":2.6},{"s":"c08","x":1050,"y":1.6},{"s":"c08","x":1250,"y":0.9},{"s":"c08","x":1550,"y":0.4},{"s":"c08","x":2000,"y":0.15},{"s":"c08","x":2785,"y":0},
{"s":"c09","x":0,"y":100},{"s":"c09","x":21,"y":96},{"s":"c09","x":42,"y":88},{"s":"c09","x":63,"y":80},{"s":"c09","x":84,"y":73},{"s":"c09","x":116,"y":65},{"s":"c09","x":147,"y":56},{"s":"c09","x":179,"y":49},{"s":"c09","x":210,"y":42},{"s":"c09","x":252,"y":35},{"s":"c09","x":294,"y":29},{"s":"c09","x":347,"y":22.5},{"s":"c09","x":399,"y":17},{"s":"c09","x":462,"y":12.5},{"s":"c09","x":546,"y":9},{"s":"c09","x":651,"y":6},{"s":"c09","x":777,"y":4},{"s":"c09","x":924,"y":2.6},{"s":"c09","x":1103,"y":1.6},{"s":"c09","x":1313,"y":0.9},{"s":"c09","x":1628,"y":0.4},{"s":"c09","x":2100,"y":0.15},{"s":"c09","x":2785,"y":0},
{"s":"c10","x":0,"y":100},{"s":"c10","x":19,"y":96},{"s":"c10","x":38,"y":88},{"s":"c10","x":57,"y":80},{"s":"c10","x":76,"y":73},{"s":"c10","x":105,"y":65},{"s":"c10","x":133,"y":56},{"s":"c10","x":162,"y":49},{"s":"c10","x":190,"y":42},{"s":"c10","x":228,"y":35},{"s":"c10","x":266,"y":29},{"s":"c10","x":314,"y":22.5},{"s":"c10","x":361,"y":17},{"s":"c10","x":418,"y":12.5},{"s":"c10","x":494,"y":9},{"s":"c10","x":589,"y":6},{"s":"c10","x":703,"y":4},{"s":"c10","x":836,"y":2.6},{"s":"c10","x":998,"y":1.6},{"s":"c10","x":1188,"y":0.9},{"s":"c10","x":1473,"y":0.4},{"s":"c10","x":1900,"y":0.15},{"s":"c10","x":2785,"y":0},
{"s":"c11","x":0,"y":100},{"s":"c11","x":20,"y":97},{"s":"c11","x":40,"y":91},{"s":"c11","x":60,"y":84},{"s":"c11","x":85,"y":75},{"s":"c11","x":110,"y":67},{"s":"c11","x":140,"y":59},{"s":"c11","x":170,"y":52},{"s":"c11","x":200,"y":46},{"s":"c11","x":240,"y":39},{"s":"c11","x":280,"y":33},{"s":"c11","x":330,"y":26.5},{"s":"c11","x":380,"y":21},{"s":"c11","x":440,"y":16},{"s":"c11","x":510,"y":12},{"s":"c11","x":600,"y":8.5},{"s":"c11","x":700,"y":6},{"s":"c11","x":820,"y":4},{"s":"c11","x":980,"y":2.5},{"s":"c11","x":1200,"y":1.4},{"s":"c11","x":1500,"y":0.7},{"s":"c11","x":2000,"y":0.3},{"s":"c11","x":2785,"y":0.1},
{"s":"c15","x":0,"y":100},{"s":"c15","x":22,"y":97.5},{"s":"c15","x":44,"y":92},{"s":"c15","x":66,"y":85},{"s":"c15","x":90,"y":77},{"s":"c15","x":118,"y":69},{"s":"c15","x":150,"y":61},{"s":"c15","x":180,"y":54},{"s":"c15","x":212,"y":48},{"s":"c15","x":254,"y":41},{"s":"c15","x":296,"y":35},{"s":"c15","x":346,"y":28},{"s":"c15","x":398,"y":22.5},{"s":"c15","x":460,"y":17.5},{"s":"c15","x":535,"y":13.2},{"s":"c15","x":628,"y":9.5},{"s":"c15","x":735,"y":6.8},{"s":"c15","x":860,"y":4.7},{"s":"c15","x":1020,"y":3.1},{"s":"c15","x":1240,"y":1.9},{"s":"c15","x":1540,"y":1},{"s":"c15","x":2000,"y":0.45},{"s":"c15","x":2785,"y":0.15},
{"s":"c12","x":0,"y":100},{"s":"c12","x":21,"y":97},{"s":"c12","x":43,"y":91},{"s":"c12","x":64,"y":84},{"s":"c12","x":91,"y":75},{"s":"c12","x":118,"y":67},{"s":"c12","x":150,"y":59},{"s":"c12","x":182,"y":52},{"s":"c12","x":214,"y":46},{"s":"c12","x":257,"y":39},{"s":"c12","x":300,"y":33},{"s":"c12","x":353,"y":26.5},{"s":"c12","x":407,"y":21},{"s":"c12","x":471,"y":16},{"s":"c12","x":546,"y":12},{"s":"c12","x":642,"y":8.5},{"s":"c12","x":749,"y":6},{"s":"c12","x":877,"y":4},{"s":"c12","x":1049,"y":2.5},{"s":"c12","x":1284,"y":1.4},{"s":"c12","x":1605,"y":0.7},{"s":"c12","x":2140,"y":0.3},{"s":"c12","x":2785,"y":0.1},
{"s":"c14","x":0,"y":100},{"s":"c14","x":26,"y":98},{"s":"c14","x":52,"y":93.5},{"s":"c14","x":78,"y":87},{"s":"c14","x":104,"y":78},{"s":"c14","x":135,"y":70.5},{"s":"c14","x":166,"y":63.5},{"s":"c14","x":197,"y":57.5},{"s":"c14","x":229,"y":52.5},{"s":"c14","x":270,"y":45.5},{"s":"c14","x":312,"y":39.5},{"s":"c14","x":364,"y":32.5},{"s":"c14","x":416,"y":27},{"s":"c14","x":478,"y":21.5},{"s":"c14","x":551,"y":17},{"s":"c14","x":645,"y":12.8},{"s":"c14","x":749,"y":9.5},{"s":"c14","x":884,"y":6.8},{"s":"c14","x":1040,"y":4.8},{"s":"c14","x":1248,"y":3.2},{"s":"c14","x":1508,"y":2.1},{"s":"c14","x":1820,"y":1.3},{"s":"c14","x":2184,"y":0.8},{"s":"c14","x":2600,"y":0.5},{"s":"c14","x":2785,"y":0.4},
{"s":"c13","x":0,"y":100},{"s":"c13","x":25,"y":98},{"s":"c13","x":50,"y":93},{"s":"c13","x":75,"y":86},{"s":"c13","x":100,"y":77},{"s":"c13","x":130,"y":69},{"s":"c13","x":160,"y":62},{"s":"c13","x":190,"y":56},{"s":"c13","x":220,"y":51},{"s":"c13","x":260,"y":44},{"s":"c13","x":300,"y":38},{"s":"c13","x":350,"y":31},{"s":"c13","x":400,"y":25.5},{"s":"c13","x":460,"y":20},{"s":"c13","x":530,"y":15.5},{"s":"c13","x":620,"y":11.5},{"s":"c13","x":720,"y":8.5},{"s":"c13","x":850,"y":6},{"s":"c13","x":1000,"y":4.2},{"s":"c13","x":1200,"y":2.8},{"s":"c13","x":1450,"y":1.8},{"s":"c13","x":1750,"y":1.1},{"s":"c13","x":2100,"y":0.7},{"s":"c13","x":2500,"y":0.4},{"s":"c13","x":2785,"y":0.3},
{"s":"c16","x":0,"y":100},{"s":"c16","x":50,"y":99},{"s":"c16","x":100,"y":96},{"s":"c16","x":150,"y":91},{"s":"c16","x":200,"y":84},{"s":"c16","x":250,"y":77},{"s":"c16","x":300,"y":69},{"s":"c16","x":350,"y":61},{"s":"c16","x":400,"y":54},{"s":"c16","x":450,"y":48},{"s":"c16","x":500,"y":43},{"s":"c16","x":560,"y":37.5},{"s":"c16","x":630,"y":32},{"s":"c16","x":710,"y":26.5},{"s":"c16","x":800,"y":22},{"s":"c16","x":900,"y":18},{"s":"c16","x":1000,"y":15},{"s":"c16","x":1120,"y":12.2},{"s":"c16","x":1250,"y":10},{"s":"c16","x":1400,"y":8},{"s":"c16","x":1600,"y":6},{"s":"c16","x":1850,"y":4.3},{"s":"c16","x":2150,"y":3},{"s":"c16","x":2500,"y":2},{"s":"c16","x":2785,"y":1.5},
{"s":"c17","x":0,"y":100},{"s":"c17","x":50,"y":99.5},{"s":"c17","x":100,"y":98},{"s":"c17","x":150,"y":95},{"s":"c17","x":200,"y":90},{"s":"c17","x":250,"y":84},{"s":"c17","x":300,"y":77},{"s":"c17","x":350,"y":70},{"s":"c17","x":400,"y":63},{"s":"c17","x":450,"y":57},{"s":"c17","x":500,"y":51},{"s":"c17","x":560,"y":45},{"s":"c17","x":630,"y":39},{"s":"c17","x":710,"y":33},{"s":"c17","x":800,"y":27.5},{"s":"c17","x":900,"y":23},{"s":"c17","x":1000,"y":19},{"s":"c17","x":1120,"y":15.5},{"s":"c17","x":1250,"y":12.5},{"s":"c17","x":1400,"y":10},{"s":"c17","x":1600,"y":7.5},{"s":"c17","x":1850,"y":5.3},{"s":"c17","x":2150,"y":3.6},{"s":"c17","x":2500,"y":2.3},{"s":"c17","x":2785,"y":1.7},
{"s":"c18","x":0,"y":100},{"s":"c18","x":7,"y":99},{"s":"c18","x":14,"y":95},{"s":"c18","x":21,"y":88},{"s":"c18","x":28,"y":79},{"s":"c18","x":35,"y":69},{"s":"c18","x":42,"y":59},{"s":"c18","x":50,"y":49},{"s":"c18","x":58,"y":40},{"s":"c18","x":68,"y":31},{"s":"c18","x":80,"y":23},{"s":"c18","x":95,"y":16},{"s":"c18","x":115,"y":10},{"s":"c18","x":140,"y":6},{"s":"c18","x":175,"y":3},{"s":"c18","x":230,"y":1.2},{"s":"c18","x":320,"y":0.4},{"s":"c18","x":2785,"y":0},
{"s":"c04","x":0,"y":100},{"s":"c04","x":7,"y":99},{"s":"c04","x":15,"y":95},{"s":"c04","x":23,"y":86},{"s":"c04","x":31,"y":75},{"s":"c04","x":39,"y":63},{"s":"c04","x":47,"y":52},{"s":"c04","x":56,"y":41},{"s":"c04","x":66,"y":31},{"s":"c04","x":78,"y":22},{"s":"c04","x":92,"y":15},{"s":"c04","x":110,"y":9},{"s":"c04","x":135,"y":5},{"s":"c04","x":170,"y":2.3},{"s":"c04","x":230,"y":0.8},{"s":"c04","x":350,"y":0.2},{"s":"c04","x":2785,"y":0},
{"s":"c03","x":0,"y":100},{"s":"c03","x":6,"y":98.5},{"s":"c03","x":12,"y":94},{"s":"c03","x":18,"y":86},{"s":"c03","x":25,"y":74},{"s":"c03","x":32,"y":61},{"s":"c03","x":39,"y":49},{"s":"c03","x":47,"y":38},{"s":"c03","x":56,"y":28},{"s":"c03","x":67,"y":19},{"s":"c03","x":80,"y":12},{"s":"c03","x":98,"y":7},{"s":"c03","x":120,"y":3.5},{"s":"c03","x":155,"y":1.5},{"s":"c03","x":210,"y":0.5},{"s":"c03","x":350,"y":0.1},{"s":"c03","x":2785,"y":0},
{"s":"c02","x":0,"y":100},{"s":"c02","x":6,"y":98},{"s":"c02","x":12,"y":92},{"s":"c02","x":18,"y":82},{"s":"c02","x":24,"y":70},{"s":"c02","x":30,"y":57},{"s":"c02","x":36,"y":46},{"s":"c02","x":43,"y":36},{"s":"c02","x":50,"y":27},{"s":"c02","x":60,"y":19},{"s":"c02","x":72,"y":12},{"s":"c02","x":88,"y":7},{"s":"c02","x":110,"y":3.5},{"s":"c02","x":140,"y":1.5},{"s":"c02","x":190,"y":0.5},{"s":"c02","x":300,"y":0.1},{"s":"c02","x":2785,"y":0},
{"s":"c05","x":0,"y":100},{"s":"c05","x":8,"y":99},{"s":"c05","x":17,"y":96},{"s":"c05","x":26,"y":90},{"s":"c05","x":35,"y":81},{"s":"c05","x":44,"y":71},{"s":"c05","x":53,"y":61},{"s":"c05","x":63,"y":51},{"s":"c05","x":74,"y":41},{"s":"c05","x":86,"y":32},{"s":"c05","x":100,"y":24},{"s":"c05","x":118,"y":17},{"s":"c05","x":140,"y":11.5},{"s":"c05","x":170,"y":7},{"s":"c05","x":210,"y":3.8},{"s":"c05","x":260,"y":2},{"s":"c05","x":330,"y":0.9},{"s":"c05","x":450,"y":0.3},{"s":"c05","x":700,"y":0},{"s":"c05","x":2785,"y":0},
{"s":"c19","x":0,"y":100},{"s":"c19","x":5,"y":98},{"s":"c19","x":10,"y":92},{"s":"c19","x":15,"y":82},{"s":"c19","x":20,"y":70},{"s":"c19","x":26,"y":57},{"s":"c19","x":32,"y":45},{"s":"c19","x":39,"y":34},{"s":"c19","x":47,"y":24},{"s":"c19","x":57,"y":16},{"s":"c19","x":70,"y":10},{"s":"c19","x":88,"y":5.5},{"s":"c19","x":110,"y":2.8},{"s":"c19","x":145,"y":1.1},{"s":"c19","x":200,"y":0.3},{"s":"c19","x":2785,"y":0},
{"s":"c01","x":0,"y":100},{"s":"c01","x":5,"y":97},{"s":"c01","x":10,"y":90},{"s":"c01","x":15,"y":78},{"s":"c01","x":20,"y":63},{"s":"c01","x":25,"y":48},{"s":"c01","x":30,"y":35},{"s":"c01","x":35,"y":25},{"s":"c01","x":42,"y":16},{"s":"c01","x":50,"y":10},{"s":"c01","x":60,"y":6},{"s":"c01","x":75,"y":3},{"s":"c01","x":95,"y":1.3},{"s":"c01","x":130,"y":0.4},{"s":"c01","x":200,"y":0.1},{"s":"c01","x":2785,"y":0}
],
"d": [
{"s":"d11","x":0,"y":100},{"s":"d11","x":1,"y":69},{"s":"d11","x":15,"y":63},{"s":"d11","x":30,"y":56},{"s":"d11","x":45,"y":49},{"s":"d11","x":62,"y":42},{"s":"d11","x":80,"y":35},{"s":"d11","x":100,"y":28.5},{"s":"d11","x":125,"y":21.5},{"s":"d11","x":155,"y":15},{"s":"d11","x":195,"y":9.5},{"s":"d11","x":245,"y":5.5},{"s":"d11","x":320,"y":2.7},{"s":"d11","x":450,"y":1.1},{"s":"d11","x":700,"y":0.3},{"s":"d11","x":4777,"y":0},
{"s":"d12","x":0,"y":100},{"s":"d12","x":1,"y":68},{"s":"d12","x":15,"y":61},{"s":"d12","x":30,"y":53},{"s":"d12","x":45,"y":45},{"s":"d12","x":60,"y":38},{"s":"d12","x":78,"y":31},{"s":"d12","x":100,"y":24},{"s":"d12","x":125,"y":17.5},{"s":"d12","x":155,"y":12},{"s":"d12","x":195,"y":7.5},{"s":"d12","x":250,"y":4},{"s":"d12","x":330,"y":1.8},{"s":"d12","x":470,"y":0.6},{"s":"d12","x":700,"y":0.2},{"s":"d12","x":4777,"y":0},
{"s":"d16","x":0,"y":100},{"s":"d16","x":10,"y":95},{"s":"d16","x":22,"y":87},{"s":"d16","x":35,"y":77},{"s":"d16","x":50,"y":66},{"s":"d16","x":66,"y":56},{"s":"d16","x":84,"y":46},{"s":"d16","x":104,"y":37},{"s":"d16","x":128,"y":28.5},{"s":"d16","x":158,"y":21},{"s":"d16","x":195,"y":14.5},{"s":"d16","x":245,"y":9},{"s":"d16","x":310,"y":5.3},{"s":"d16","x":400,"y":2.8},{"s":"d16","x":540,"y":1.2},{"s":"d16","x":800,"y":0.4},{"s":"d16","x":4777,"y":0},
{"s":"d13","x":0,"y":100},{"s":"d13","x":10,"y":93},{"s":"d13","x":20,"y":84},{"s":"d13","x":30,"y":75},{"s":"d13","x":42,"y":65},{"s":"d13","x":55,"y":55},{"s":"d13","x":70,"y":45},{"s":"d13","x":88,"y":36},{"s":"d13","x":110,"y":27},{"s":"d13","x":138,"y":19},{"s":"d13","x":170,"y":13},{"s":"d13","x":215,"y":8},{"s":"d13","x":280,"y":4.3},{"s":"d13","x":370,"y":2},{"s":"d13","x":500,"y":0.8},{"s":"d13","x":800,"y":0.2},{"s":"d13","x":4777,"y":0},
{"s":"d14","x":0,"y":100},{"s":"d14","x":10,"y":94},{"s":"d14","x":20,"y":86},{"s":"d14","x":32,"y":76},{"s":"d14","x":45,"y":65},{"s":"d14","x":60,"y":54},{"s":"d14","x":76,"y":44},{"s":"d14","x":95,"y":35},{"s":"d14","x":118,"y":26},{"s":"d14","x":145,"y":18.5},{"s":"d14","x":180,"y":12.5},{"s":"d14","x":225,"y":7.5},{"s":"d14","x":290,"y":4},{"s":"d14","x":380,"y":1.8},{"s":"d14","x":520,"y":0.7},{"s":"d14","x":800,"y":0.2},{"s":"d14","x":4777,"y":0},
{"s":"d15","x":0,"y":100},{"s":"d15","x":8,"y":92},{"s":"d15","x":16,"y":80},{"s":"d15","x":25,"y":68},{"s":"d15","x":35,"y":57},{"s":"d15","x":47,"y":47},{"s":"d15","x":60,"y":38},{"s":"d15","x":77,"y":30},{"s":"d15","x":98,"y":22},{"s":"d15","x":125,"y":15},{"s":"d15","x":160,"y":9.5},{"s":"d15","x":205,"y":5.5},{"s":"d15","x":270,"y":2.8},{"s":"d15","x":370,"y":1.2},{"s":"d15","x":520,"y":0.4},{"s":"d15","x":4777,"y":0},
{"s":"d17","x":0,"y":100},{"s":"d17","x":1,"y":71},{"s":"d17","x":18,"y":65},{"s":"d17","x":35,"y":58},{"s":"d17","x":55,"y":50},{"s":"d17","x":75,"y":42},{"s":"d17","x":98,"y":33},{"s":"d17","x":125,"y":25},{"s":"d17","x":158,"y":18},{"s":"d17","x":200,"y":12},{"s":"d17","x":255,"y":7.2},{"s":"d17","x":330,"y":3.8},{"s":"d17","x":440,"y":1.7},{"s":"d17","x":620,"y":0.6},{"s":"d17","x":1000,"y":0.15},{"s":"d17","x":4777,"y":0},
{"s":"d09","x":0,"y":100},{"s":"d09","x":10,"y":93},{"s":"d09","x":20,"y":82},{"s":"d09","x":30,"y":70},{"s":"d09","x":45,"y":56},{"s":"d09","x":60,"y":45},{"s":"d09","x":80,"y":35},{"s":"d09","x":100,"y":28},{"s":"d09","x":130,"y":21},{"s":"d09","x":170,"y":15},{"s":"d09","x":220,"y":11},{"s":"d09","x":290,"y":7.8},{"s":"d09","x":380,"y":5.5},{"s":"d09","x":500,"y":3.9},{"s":"d09","x":700,"y":2.5},{"s":"d09","x":1000,"y":1.5},{"s":"d09","x":1500,"y":0.8},{"s":"d09","x":2200,"y":0.4},{"s":"d09","x":4777,"y":0},
{"s":"d08","x":0,"y":100},{"s":"d08","x":20,"y":97},{"s":"d08","x":40,"y":91},{"s":"d08","x":60,"y":82},{"s":"d08","x":80,"y":73},{"s":"d08","x":105,"y":63},{"s":"d08","x":130,"y":55},{"s":"d08","x":160,"y":48},{"s":"d08","x":200,"y":40.5},{"s":"d08","x":250,"y":33},{"s":"d08","x":310,"y":26.5},{"s":"d08","x":380,"y":21},{"s":"d08","x":470,"y":16},{"s":"d08","x":580,"y":12},{"s":"d08","x":720,"y":8.8},{"s":"d08","x":900,"y":6.2},{"s":"d08","x":1150,"y":4.2},{"s":"d08","x":1450,"y":2.8},{"s":"d08","x":1800,"y":1.8},{"s":"d08","x":2300,"y":1},{"s":"d08","x":3000,"y":0.5},{"s":"d08","x":4777,"y":0.1},
{"s":"d07","x":0,"y":100},{"s":"d07","x":30,"y":97},{"s":"d07","x":60,"y":91},{"s":"d07","x":90,"y":83},{"s":"d07","x":120,"y":75},{"s":"d07","x":160,"y":66},{"s":"d07","x":200,"y":58},{"s":"d07","x":250,"y":51},{"s":"d07","x":310,"y":44},{"s":"d07","x":380,"y":37.5},{"s":"d07","x":460,"y":31.5},{"s":"d07","x":550,"y":26.5},{"s":"d07","x":660,"y":22},{"s":"d07","x":800,"y":17.5},{"s":"d07","x":960,"y":14},{"s":"d07","x":1150,"y":11},{"s":"d07","x":1400,"y":8.3},{"s":"d07","x":1700,"y":6.2},{"s":"d07","x":2050,"y":4.5},{"s":"d07","x":2500,"y":3.1},{"s":"d07","x":3000,"y":2.1},{"s":"d07","x":3600,"y":1.4},{"s":"d07","x":4200,"y":1},{"s":"d07","x":4777,"y":0.7},
{"s":"d06","x":0,"y":100},{"s":"d06","x":40,"y":97.5},{"s":"d06","x":80,"y":91},{"s":"d06","x":120,"y":82},{"s":"d06","x":160,"y":72},{"s":"d06","x":210,"y":63},{"s":"d06","x":260,"y":56},{"s":"d06","x":320,"y":49},{"s":"d06","x":390,"y":42},{"s":"d06","x":470,"y":35},{"s":"d06","x":560,"y":29},{"s":"d06","x":660,"y":23.5},{"s":"d06","x":780,"y":18.5},{"s":"d06","x":920,"y":14.5},{"s":"d06","x":1080,"y":11},{"s":"d06","x":1260,"y":8.5},{"s":"d06","x":1500,"y":6.3},{"s":"d06","x":1800,"y":4.5},{"s":"d06","x":2150,"y":3.2},{"s":"d06","x":2600,"y":2.2},{"s":"d06","x":3100,"y":1.5},{"s":"d06","x":3700,"y":1},{"s":"d06","x":4777,"y":0.5},
{"s":"d04","x":0,"y":100},{"s":"d04","x":40,"y":98.5},{"s":"d04","x":80,"y":94},{"s":"d04","x":120,"y":87},{"s":"d04","x":170,"y":77},{"s":"d04","x":220,"y":68},{"s":"d04","x":280,"y":59},{"s":"d04","x":350,"y":50},{"s":"d04","x":430,"y":42},{"s":"d04","x":520,"y":35},{"s":"d04","x":620,"y":29},{"s":"d04","x":740,"y":24},{"s":"d04","x":880,"y":19.5},{"s":"d04","x":1050,"y":15.5},{"s":"d04","x":1250,"y":12.3},{"s":"d04","x":1500,"y":9.5},{"s":"d04","x":1800,"y":7.3},{"s":"d04","x":2150,"y":5.5},{"s":"d04","x":2600,"y":4},{"s":"d04","x":3100,"y":2.8},{"s":"d04","x":3700,"y":1.9},{"s":"d04","x":4200,"y":1.4},{"s":"d04","x":4777,"y":1},
{"s":"d03","x":0,"y":100},{"s":"d03","x":80,"y":99.3},{"s":"d03","x":160,"y":97},{"s":"d03","x":240,"y":92},{"s":"d03","x":320,"y":84},{"s":"d03","x":400,"y":75},{"s":"d03","x":480,"y":66},{"s":"d03","x":560,"y":57},{"s":"d03","x":640,"y":49},{"s":"d03","x":720,"y":42},{"s":"d03","x":800,"y":36},{"s":"d03","x":900,"y":30},{"s":"d03","x":1000,"y":25},{"s":"d03","x":1150,"y":19.5},{"s":"d03","x":1300,"y":15.5},{"s":"d03","x":1500,"y":11.5},{"s":"d03","x":1700,"y":8.7},{"s":"d03","x":1950,"y":6.3},{"s":"d03","x":2200,"y":4.8},{"s":"d03","x":2500,"y":3.6},{"s":"d03","x":2900,"y":2.6},{"s":"d03","x":3400,"y":1.8},{"s":"d03","x":4000,"y":1.2},{"s":"d03","x":4777,"y":0.8},
{"s":"d02","x":0,"y":100},{"s":"d02","x":100,"y":99.3},{"s":"d02","x":200,"y":97},{"s":"d02","x":300,"y":93},{"s":"d02","x":400,"y":86},{"s":"d02","x":500,"y":77},{"s":"d02","x":600,"y":68},{"s":"d02","x":700,"y":59},{"s":"d02","x":800,"y":51},{"s":"d02","x":900,"y":44},{"s":"d02","x":1000,"y":38},{"s":"d02","x":1100,"y":33},{"s":"d02","x":1250,"y":27},{"s":"d02","x":1400,"y":22},{"s":"d02","x":1600,"y":17.5},{"s":"d02","x":1800,"y":14},{"s":"d02","x":2000,"y":11.5},{"s":"d02","x":2250,"y":9},{"s":"d02","x":2500,"y":7.2},{"s":"d02","x":2800,"y":5.6},{"s":"d02","x":3100,"y":4.3},{"s":"d02","x":3500,"y":3.1},{"s":"d02","x":4000,"y":2.1},{"s":"d02","x":4400,"y":1.6},{"s":"d02","x":4777,"y":1.3},
{"s":"d01","x":0,"y":100},{"s":"d01","x":100,"y":99.5},{"s":"d01","x":200,"y":98},{"s":"d01","x":300,"y":95},{"s":"d01","x":400,"y":90.5},{"s":"d01","x":500,"y":84},{"s":"d01","x":600,"y":76},{"s":"d01","x":700,"y":68},{"s":"d01","x":800,"y":60},{"s":"d01","x":900,"y":52},{"s":"d01","x":1000,"y":45},{"s":"d01","x":1100,"y":39},{"s":"d01","x":1250,"y":31.5},{"s":"d01","x":1400,"y":25},{"s":"d01","x":1600,"y":19},{"s":"d01","x":1800,"y":14.5},{"s":"d01","x":2000,"y":11.5},{"s":"d01","x":2250,"y":8.8},{"s":"d01","x":2500,"y":7},{"s":"d01","x":2800,"y":5.3},{"s":"d01","x":3100,"y":4},{"s":"d01","x":3500,"y":2.8},{"s":"d01","x":4000,"y":1.9},{"s":"d01","x":4400,"y":1.5},{"s":"d01","x":4777,"y":1.2},
{"s":"d05","x":0,"y":100},{"s":"d05","x":40,"y":98},{"s":"d05","x":80,"y":93},{"s":"d05","x":120,"y":85.5},{"s":"d05","x":170,"y":76},{"s":"d05","x":220,"y":67},{"s":"d05","x":280,"y":58.5},{"s":"d05","x":350,"y":50},{"s":"d05","x":430,"y":42.5},{"s":"d05","x":520,"y":35.5},{"s":"d05","x":620,"y":30},{"s":"d05","x":740,"y":25},{"s":"d05","x":880,"y":20.5},{"s":"d05","x":1050,"y":16.5},{"s":"d05","x":1250,"y":13.2},{"s":"d05","x":1500,"y":10.3},{"s":"d05","x":1800,"y":8},{"s":"d05","x":2150,"y":6.2},{"s":"d05","x":2600,"y":4.5},{"s":"d05","x":3100,"y":3.2},{"s":"d05","x":3700,"y":2.2},{"s":"d05","x":4200,"y":1.6},{"s":"d05","x":4777,"y":1.2},
{"s":"d10","x":0,"y":100},{"s":"d10","x":1,"y":70},{"s":"d10","x":15,"y":64},{"s":"d10","x":30,"y":57},{"s":"d10","x":45,"y":50},{"s":"d10","x":60,"y":43},{"s":"d10","x":75,"y":36},{"s":"d10","x":95,"y":28},{"s":"d10","x":120,"y":20},{"s":"d10","x":150,"y":13.5},{"s":"d10","x":190,"y":8},{"s":"d10","x":240,"y":4.5},{"s":"d10","x":320,"y":2},{"s":"d10","x":450,"y":0.8},{"s":"d10","x":700,"y":0.2},{"s":"d10","x":4777,"y":0}
]
},
"resolve": {"scale": {"color": "independent"}},
"spacing": 8,
"vconcat": [
{
 "hconcat": [
  {
   "width": 358, "height": 180,
   "layer": [
    {"data": {"name": "a"}, "mark": {"type": "line"},
     "encoding": {
      "x": {"field": "x", "type": "quantitative", "scale": {"domain": [0, 247], "nice": false, "zero": false}, "axis": {"title": "Coverage (X)", "values": [0, 50, 100, 150, 200], "format": "d"}},
      "y": {"field": "y", "type": "quantitative", "scale": {"domain": [0, 102.857], "nice": false}, "axis": {"title": "Fraction of reference (%)", "values": [0, 25, 50, 75, 100]}},
      "color": {"field": "s", "type": "nominal", "legend": null, "scale": {"domain": ["a01","a02","a03","a04","a05","a06","a07","a08","a09","a10","a11","a12","a13","a14","a15","a16","a17","a18","a19","a20","a21","a22","a23","a24","a25","a26"], "range": ["#f15c80","#8085e9","#8085e9","#f45b5b","#7cb5ec","#2b908f","#e4d354","#f7a35c","#90ed7d","#90ed7d","#434348","#434348","#7cb5ec","#f45b5b","#f7a35c","#f7a35c","#91e8e1","#8085e9","#e4d354","#90ed7d","#e4d354","#2b908f","#f7a35c","#f45b5b","#7cb5ec","#434348"]}}
     }},
    {"data": {"values": [{"t": "a"}]}, "mark": {"type": "text", "font": "Liberation Sans", "fontSize": 44, "fontWeight": "bold", "align": "left", "baseline": "alphabetic", "color": "black"},
     "encoding": {"x": {"datum": -69.5, "type": "quantitative"}, "y": {"datum": 110.7, "type": "quantitative"}, "text": {"field": "t"}}},
    {"data": {"values": [{"t": "Fresh DNA WGS Samples"}]}, "mark": {"type": "text", "font": "Liberation Sans", "fontSize": 26.5, "align": "left", "baseline": "alphabetic", "color": "black"},
     "encoding": {"x": {"datum": 8.5, "type": "quantitative"}, "y": {"datum": 112.4, "type": "quantitative"}, "text": {"field": "t"}}},
    {"data": {"values": [{"t": "Created with MultiQC"}]}, "mark": {"type": "text", "font": "DejaVu Sans", "fontSize": 5.5, "align": "right", "baseline": "middle", "color": "#999999"},
     "encoding": {"x": {"datum": 247, "type": "quantitative"}, "y": {"datum": -17.2, "type": "quantitative"}, "text": {"field": "t"}}}
   ]
  },
  {
   "width": 360, "height": 175,
   "layer": [
    {"data": {"name": "b"}, "mark": {"type": "line"},
     "encoding": {
      "x": {"field": "x", "type": "quantitative", "scale": {"domain": [0, 305], "nice": false, "zero": false}, "axis": {"title": "Coverage (X)", "values": [0, 50, 100, 150, 200, 250, 300], "format": "d"}},
      "y": {"field": "y", "type": "quantitative", "scale": {"domain": [0, 100], "nice": false}, "axis": {"title": "Fraction of reference (%)", "values": [0, 25, 50, 75, 100]}},
      "color": {"field": "s", "type": "nominal", "legend": null, "scale": {"domain": ["b01","b02","b03","b04","b05","b06","b07","b08","b10","b11","b12","b13","b14","b15","b16","b17","b18","b19","b20","b21","b22"], "range": ["#2b908f","#90ed7d","#8085e9","#7cb5ec","#7cb5ec","#434348","#434348","#7cb5ec","#2b908f","#f45b5b","#8085e9","#f15c80","#91e8e1","#e4d354","#434348","#f7a35c","#90ed7d","#7cb5ec","#91e8e1","#f45b5b","#e4d354"]}}
     }},
    {"data": {"values": [{"t": "b"}]}, "mark": {"type": "text", "font": "Liberation Sans", "fontSize": 44, "fontWeight": "bold", "align": "left", "baseline": "alphabetic", "color": "black"},
     "encoding": {"x": {"datum": -98.3, "type": "quantitative"}, "y": {"datum": 107.8, "type": "quantitative"}, "text": {"field": "t"}}},
    {"data": {"values": [{"t": "FFPE WGS Samples"}]}, "mark": {"type": "text", "font": "Liberation Sans", "fontSize": 26.5, "align": "left", "baseline": "alphabetic", "color": "black"},
     "encoding": {"x": {"datum": 5.1, "type": "quantitative"}, "y": {"datum": 112.4, "type": "quantitative"}, "text": {"field": "t"}}},
    {"data": {"values": [{"t": "Created with MultiQC"}]}, "mark": {"type": "text", "font": "DejaVu Sans", "fontSize": 5.5, "align": "right", "baseline": "middle", "color": "#999999"},
     "encoding": {"x": {"datum": 305, "type": "quantitative"}, "y": {"datum": -17.2, "type": "quantitative"}, "text": {"field": "t"}}}
   ]
  }
 ],
 "spacing": 36,
 "resolve": {"scale": {"color": "independent"}}
},
{
 "hconcat": [
  {
   "width": 359, "height": 174,
   "layer": [
    {"data": {"name": "c"}, "mark": {"type": "line"},
     "encoding": {
      "x": {"field": "x", "type": "quantitative", "scale": {"domain": [0, 2785], "nice": false, "zero": false}, "axis": {"title": "Coverage (X)", "values": [0, 500, 1000, 1500, 2000, 2500], "format": "d"}},
      "y": {"field": "y", "type": "quantitative", "scale": {"domain": [0, 100], "nice": false}, "axis": {"title": "Fraction of reference (%)", "values": [0, 25, 50, 75, 100]}},
      "color": {"field": "s", "type": "nominal", "legend": null, "scale": {"domain": ["c01","c02","c03","c04","c05","c06","c07","c08","c09","c10","c11","c12","c13","c14","c15","c16","c17","c18","c19"], "range": ["#f15c80","#e4d354","#8085e9","#7cb5ec","#2b908f","#7cb5ec","#7cb5ec","#434348","#434348","#434348","#f45b5b","#f7a35c","#f7a35c","#91e8e1","#f45b5b","#91e8e1","#90ed7d","#90ed7d","#f45b5b"]}}
     }},
    {"data": {"values": [{"t": "c"}]}, "mark": {"type": "text", "font": "Liberation Sans", "fontSize": 44, "fontWeight": "bold", "align": "left", "baseline": "alphabetic", "color": "black"},
     "encoding": {"x": {"datum": -779, "type": "quantitative"}, "y": {"datum": 114.6, "type": "quantitative"}, "text": {"field": "t"}}},
    {"data": {"values": [{"t": "Fresh DNA WES Samples"}]}, "mark": {"type": "text", "font": "Liberation Sans", "fontSize": 26.5, "align": "left", "baseline": "alphabetic", "color": "black"},
     "encoding": {"x": {"datum": 95.4, "type": "quantitative"}, "y": {"datum": 118.4, "type": "quantitative"}, "text": {"field": "t"}}},
    {"data": {"values": [{"t": "Created with MultiQC"}]}, "mark": {"type": "text", "font": "DejaVu Sans", "fontSize": 5.5, "align": "right", "baseline": "middle", "color": "#999999"},
     "encoding": {"x": {"datum": 2785, "type": "quantitative"}, "y": {"datum": -17.2, "type": "quantitative"}, "text": {"field": "t"}}}
   ]
  },
  {
   "width": 357, "height": 174,
   "layer": [
    {"data": {"name": "d"}, "mark": {"type": "line"},
     "encoding": {
      "x": {"field": "x", "type": "quantitative", "scale": {"domain": [0, 4777], "nice": false, "zero": false}, "axis": {"title": "Coverage (X)", "values": [0, 1000, 2000, 3000, 4000], "format": "d"}},
      "y": {"field": "y", "type": "quantitative", "scale": {"domain": [0, 100], "nice": false}, "axis": {"title": "Fraction of reference (%)", "values": [0, 25, 50, 75, 100]}},
      "color": {"field": "s", "type": "nominal", "legend": null, "scale": {"domain": ["d01","d02","d03","d04","d05","d06","d07","d08","d09","d10","d11","d12","d13","d14","d15","d16","d17"], "range": ["#90ed7d","#7cb5ec","#91e8e1","#8085e9","#f15c80","#f7a35c","#434348","#e4d354","#e4d354","#f45b5b","#7cb5ec","#8085e9","#f7a35c","#2b908f","#f15c80","#7cb5ec","#f45b5b"]}}
     }},
    {"data": {"values": [{"t": "d"}]}, "mark": {"type": "text", "font": "Liberation Sans", "fontSize": 44, "fontWeight": "bold", "align": "left", "baseline": "alphabetic", "color": "black"},
     "encoding": {"x": {"datum": -1204, "type": "quantitative"}, "y": {"datum": 119.5, "type": "quantitative"}, "text": {"field": "t"}}},
    {"data": {"values": [{"t": "FFPE WES Samples"}]}, "mark": {"type": "text", "font": "Liberation Sans", "fontSize": 26.5, "align": "left", "baseline": "alphabetic", "color": "black"},
     "encoding": {"x": {"datum": 66.9, "type": "quantitative"}, "y": {"datum": 119, "type": "quantitative"}, "text": {"field": "t"}}},
    {"data": {"values": [{"t": "Created with MultiQC"}]}, "mark": {"type": "text", "font": "DejaVu Sans", "fontSize": 5.5, "align": "right", "baseline": "middle", "color": "#999999"},
     "encoding": {"x": {"datum": 4777, "type": "quantitative"}, "y": {"datum": -17.2, "type": "quantitative"}, "text": {"field": "t"}}}
   ]
  }
 ],
 "spacing": 62,
 "resolve": {"scale": {"color": "independent"}}
}
]
}
